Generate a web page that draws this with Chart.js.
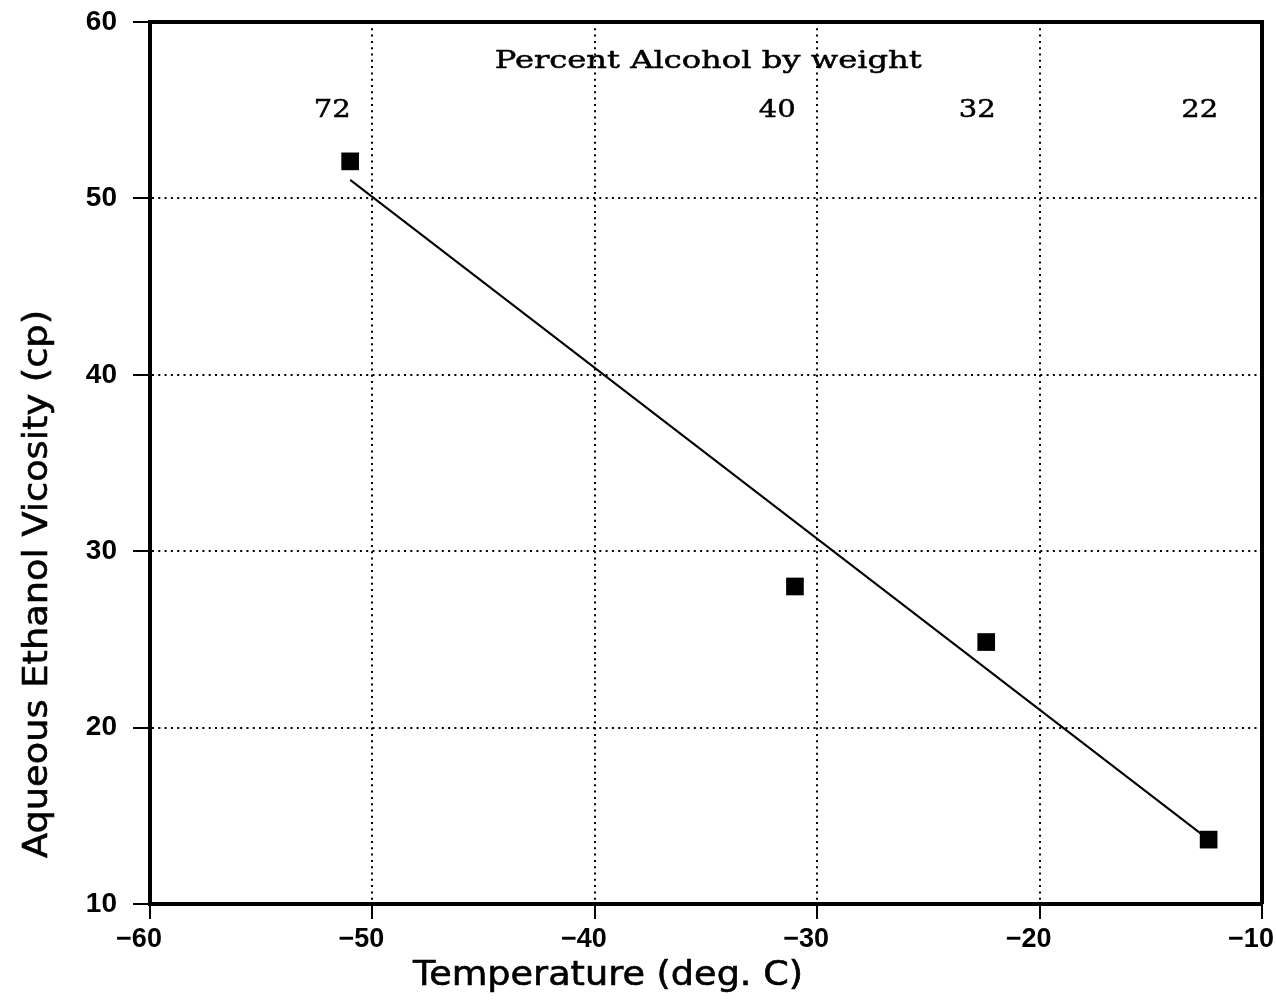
<!DOCTYPE html>
<html>
<head>
<meta charset="utf-8">
<script src="https://cdn.jsdelivr.net/npm/chart.js@4/dist/chart.umd.min.js"></script>
<style>
html,body{margin:0;padding:0;background:#fff;}
#wrap{width:1276px;height:1004px;position:relative;}
</style>
</head>
<body>
<div id="wrap"><canvas id="c" width="1276" height="1004"></canvas></div>
<script>
// Data
const temperatures = [-51.0, -31.0, -22.4, -12.4];
const viscosities = [52.1, 28.0, 24.85, 13.65];
const fitTemps = [-51.0, -12.5];
const fitViscosities = [51.05, 13.75];
const percentLabels = ['72', '40', '32', '22'];
const percentLabelTemps = [-51.8, -31.8, -22.8, -12.8];
const percentLabelY = 55.0;
const annotationTitle = 'Percent Alcohol by weight';
const annotationTitleX = -34.9;
const annotationTitleY = 57.75;
const xTicks = [-60, -50, -40, -30, -20, -10];
const yTicks = [10, 20, 30, 40, 50, 60];
const xTitle = 'Temperature (deg. C)';
const yTitle = 'Aqueous Ethanol Vicosity (cp)';

function fitText(ctx, text, x, y, width, stroke) {
  const w = ctx.measureText(text).width;
  ctx.save();
  ctx.translate(x, y);
  ctx.scale(width / w, 1);
  ctx.fillText(text, 0, 0);
  if (stroke) { ctx.lineWidth = stroke; ctx.strokeText(text, 0, 0); }
  ctx.restore();
}

const framePlugin = {
  id: 'frame',
  afterDatasetsDraw(chart) {
    const {ctx, chartArea: a, scales} = chart;
    ctx.save();
    ctx.strokeStyle = '#000';
    ctx.lineWidth = 4;
    ctx.beginPath();
    ctx.moveTo(a.left - 2, a.top); ctx.lineTo(a.right + 2, a.top);
    ctx.stroke();
    ctx.lineWidth = 4;
    ctx.beginPath();
    ctx.moveTo(a.right, a.top); ctx.lineTo(a.right, a.bottom);
    ctx.stroke();
    // annotations
    ctx.fillStyle = '#000';
    ctx.textAlign = 'center';
    ctx.textBaseline = 'middle';
    ctx.font = '25px "DejaVu Serif"';
    fitText(ctx, annotationTitle, scales.x.getPixelForValue(annotationTitleX), scales.y.getPixelForValue(annotationTitleY), 427, 0.5);
    ctx.font = '25px "DejaVu Serif"';
    percentLabels.forEach((t, i) => {
      fitText(ctx, t, scales.x.getPixelForValue(percentLabelTemps[i]), scales.y.getPixelForValue(percentLabelY), 37, 0.5);
    });
    // axis titles
    ctx.font = '34px "DejaVu Sans"';
    fitText(ctx, xTitle, 608, 976, 390, 0.6);
    ctx.save();
    ctx.translate(38, 584);
    ctx.rotate(-Math.PI / 2);
    fitText(ctx, yTitle, 0, 0, 548, 0.6);
    ctx.restore();
    ctx.restore();
  }
};

new Chart(document.getElementById('c'), {
  type: 'scatter',
  data: {
    datasets: [
      {
        label: 'fit',
        data: fitTemps.map((x, i) => ({x, y: fitViscosities[i]})),
        showLine: true,
        borderColor: '#000',
        borderWidth: 2,
        pointRadius: 0,
        fill: false
      },
      {
        label: 'data',
        data: temperatures.map((x, i) => ({x, y: viscosities[i]})),
        pointStyle: 'rect',
        pointRadius: 12.5,
        backgroundColor: '#000',
        borderColor: '#000',
        borderWidth: 0
      }
    ]
  },
  options: {
    responsive: false,
    animation: false,
    events: [],
    layout: {padding: {left: 0, right: 14, top: 22, bottom: 0}},
    plugins: {legend: {display: false}, tooltip: {enabled: false}},
    scales: {
      x: {
        type: 'linear',
        min: -60, max: -10,
        afterBuildTicks(s) { s.ticks = xTicks.map(v => ({value: v})); },
        afterFit(s) { s.height = 100; s.paddingLeft = 0; s.paddingRight = 0; },
        border: {display: true, color: '#000', width: 4, dash: [2, 4.3]},
        grid: {
          color: (c) => (c.tick && (c.tick.value === -60 || c.tick.value === -10)) ? 'rgba(0,0,0,0)' : '#000',
          lineWidth: 2,
          drawTicks: true,
          tickLength: 15,
          tickColor: '#000',
          tickWidth: 2,
          tickBorderDash: []
        },
        ticks: {
          color: '#000',
          font: {family: '"Liberation Sans"', size: 27, weight: 'bold'},
          padding: 4,
          maxRotation: 0,
          labelOffset: -11,
          callback: (v) => String(v).replace('-', '\u2212')
        },
        title: {display: false}
      },
      y: {
        type: 'linear',
        min: 10, max: 60,
        afterBuildTicks(s) { s.ticks = yTicks.map(v => ({value: v})); },
        afterFit(s) { s.width = 150; s.paddingTop = 0; s.paddingBottom = 0; },
        border: {display: true, color: '#000', width: 4, dash: [2, 4.3]},
        grid: {
          color: (c) => (c.tick && (c.tick.value === 10 || c.tick.value === 60)) ? 'rgba(0,0,0,0)' : '#000',
          lineWidth: 2,
          drawTicks: true,
          tickLength: 17,
          tickColor: '#000',
          tickWidth: 2,
          tickBorderDash: []
        },
        ticks: {
          color: '#000',
          font: {family: '"Liberation Sans"', size: 28, weight: 'bold'},
          padding: 16
        },
        title: {display: false}
      }
    }
  },
  plugins: [framePlugin]
});
</script>
</body>
</html>
